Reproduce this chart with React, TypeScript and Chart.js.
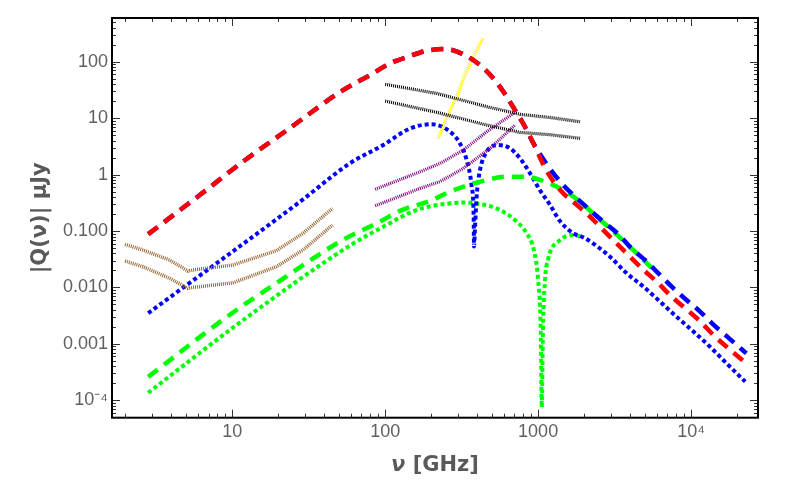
import { useEffect, useRef } from "react";
import { Chart, registerables } from "chart.js";

Chart.register(...registerables);

// frequencies in GHz, |Q| in μJy
const redNu = [2.82, 6.1, 12.1, 24.4, 50.6, 83, 107, 141, 187, 246, 333, 417, 509, 607, 706, 821, 931, 1122, 1422, 1742, 2183, 2670, 3270, 3990, 4890, 5970, 7290, 9140, 11500, 14000, 17600, 23000];
const redQ = [0.088, 0.43, 1.8, 7.0, 29, 62, 93, 123, 157, 168, 131, 87, 51, 26.8, 13.9, 7.05, 3.6, 1.24, 0.5, 0.31, 0.18, 0.104, 0.06, 0.035, 0.0205, 0.0126, 0.0073, 0.0043, 0.0025, 0.00143, 0.00083, 0.00045];

const blueDashNu = [2.82, 6.1, 12.1, 24.4, 50.6, 83, 107, 141, 187, 246, 333, 417, 509, 607, 706, 821, 931, 1110, 1426, 2183, 2670, 3390, 4090, 5140, 5970, 7480, 9140, 11500, 14000, 17600, 23000];
const blueDashQ = [0.088, 0.43, 1.8, 7.0, 29, 62, 93, 123, 157, 168, 131, 87, 51, 26.8, 13.9, 7.05, 3.6, 1.69, 0.7, 0.235, 0.146, 0.085, 0.049, 0.0286, 0.019, 0.0103, 0.0063, 0.0037, 0.0022, 0.00128, 0.00068];

const greenDashNu = [2.82, 9.2, 20, 53, 92, 125, 201, 266, 349, 461, 607, 821, 1110, 1462, 1880, 2415, 3030, 4090, 5550];
const greenDashQ = [0.00026, 0.003, 0.0126, 0.07, 0.146, 0.228, 0.35, 0.5, 0.65, 0.8, 0.92, 0.92, 0.75, 0.53, 0.33, 0.18, 0.104, 0.049, 0.022];

const blueDotNu = [2.82, 27.7, 58.7, 97, 146, 201, 266, 308, 341, 368, 379, 381, 386, 396, 417, 461, 550, 655, 762, 886, 1028, 1197, 1390, 1700, 1977, 2296, 2950, 3800, 4890, 6280, 8070, 10400, 13300, 17100, 22600];
const blueDotQ = [0.0035, 0.33, 1.58, 3.34, 6.6, 7.8, 5.75, 3.58, 1.8, 0.61, 0.18, 0.053, 0.104, 0.4, 1.2, 2.54, 3.34, 2.92, 1.94, 1.05, 0.53, 0.29, 0.15, 0.091, 0.077, 0.06, 0.035, 0.0178, 0.0103, 0.0056, 0.003, 0.00164, 0.00089, 0.00045, 0.000214];

const greenDotNu = [2.82, 11.8, 58.7, 97, 160, 266, 341, 377, 485, 592, 725, 842, 940, 1000, 1040, 1057, 1075, 1110, 1167, 1390, 1700, 1950];
const greenDotQ = [0.000136, 0.00265, 0.055, 0.119, 0.235, 0.31, 0.32, 0.31, 0.277, 0.22, 0.146, 0.091, 0.045, 0.0136, 0.00176, 0.000075, 0.0018, 0.0136, 0.033, 0.069, 0.085, 0.078];

const blackHiNu = [100, 217, 461, 762, 1190, 1880];
const blackHiQ = [39.8, 27.5, 16, 11.7, 10.3, 8.65];
const blackLoNu = [100, 217, 461, 762, 1190, 1880];
const blackLoQ = [20.1, 12.7, 7.55, 5.6, 5.1, 4.4];

const purpleHiNu = [86, 169, 228, 324, 461, 706];
const purpleHiQ = [0.55, 1.12, 1.58, 2.72, 5.75, 12.7];
const purpleLoNu = [86, 169, 228, 324, 485, 706];
const purpleLoQ = [0.28, 0.57, 0.75, 1.29, 2.92, 7.55];

const yellowNu = [222, 258, 293, 333, 377, 438];
const yellowQ = [4.4, 11.4, 24, 58, 123, 266];

const brownHiNu = [1.99, 2.61, 3.9, 5.14, 5.54, 10.1, 19.4, 29, 45.3];
const brownHiQ = [0.058, 0.046, 0.0306, 0.0195, 0.0204, 0.025, 0.0448, 0.091, 0.252];
const brownLoNu = [1.99, 2.61, 3.9, 5.14, 5.54, 10.1, 19.4, 29, 45.3];
const brownLoQ = [0.0294, 0.0233, 0.0145, 0.00964, 0.01, 0.0121, 0.0233, 0.046, 0.128];

const xTickValues = [10, 100, 1000, 10000];
const xTickLabels = ["10", "100", "1000", "10⁴"];
const yTickValues = [0.0001, 0.001, 0.01, 0.1, 1, 10, 100];
const yTickLabels = ["10⁻⁴", "0.001", "0.010", "0.100", "1", "10", "100"];

const pts = (nu: number[], q: number[]) => nu.map((v, i) => ({ x: v, y: q[i] }));

const tickFont = { family: "'Liberation Sans', Arial, sans-serif", size: 18 };
const grey = "#606060";

// frame with inward ticks on all four sides, plus the x title
const frameTicks = {
  id: "frameTicks",
  afterDraw(chart: any) {
    const { ctx, chartArea: a, scales } = chart;
    const xs = scales.x;
    const ys = scales.y;
    ctx.save();
    ctx.strokeStyle = "#333";
    ctx.lineWidth = 1;
    ctx.beginPath();
    for (let e = 0; e <= 4; e++) {
      for (let m = 1; m <= 9; m++) {
        const v = m * Math.pow(10, e);
        if (v < xs.min || v > xs.max) continue;
        const px = Math.round(xs.getPixelForValue(v)) + 0.5;
        const len = m === 1 ? 8 : 4;
        ctx.moveTo(px, a.bottom);
        ctx.lineTo(px, a.bottom - len);
        ctx.moveTo(px, a.top);
        ctx.lineTo(px, a.top + len);
      }
    }
    for (let e = -5; e <= 2; e++) {
      for (let m = 1; m <= 9; m++) {
        const v = m * Math.pow(10, e);
        if (v < ys.min || v > ys.max) continue;
        const py = Math.round(ys.getPixelForValue(v)) + 0.5;
        const len = m === 1 ? 8 : 4;
        ctx.moveTo(a.left, py);
        ctx.lineTo(a.left + len, py);
        ctx.moveTo(a.right, py);
        ctx.lineTo(a.right - len, py);
      }
    }
    ctx.stroke();
    ctx.strokeStyle = "#000";
    ctx.lineWidth = 2;
    ctx.strokeRect(a.left, a.top, a.right - a.left, a.bottom - a.top);

    // x title: italic ν, upright [GHz]
    const nuFont = "italic bold 21px 'DejaVu Sans', sans-serif";
    const restFont = "bold 21px 'DejaVu Sans', sans-serif";
    ctx.font = nuFont;
    const w1 = ctx.measureText("ν").width;
    ctx.font = restFont;
    const w2 = ctx.measureText(" [GHz]").width;
    const cx = (a.left + a.right) / 2;
    const x0 = cx - (w1 + w2) / 2;
    ctx.fillStyle = "#5a5a5a";
    ctx.textBaseline = "middle";
    ctx.textAlign = "left";
    ctx.font = nuFont;
    ctx.fillText("ν", x0, 466);
    ctx.font = restFont;
    ctx.fillText(" [GHz]", x0 + w1, 466);
    ctx.restore();
  },
};

export default function App() {
  const chartRef = useRef<HTMLCanvasElement>(null);
  const chartInstance = useRef<Chart | null>(null);

  useEffect(() => {
    if (!chartRef.current) return;
    if (chartInstance.current) chartInstance.current.destroy();

    const fine = { borderWidth: 3.2, borderDash: [1, 1], tension: 0 };
    const dashed = { borderWidth: 4.5, borderDash: [12, 8], cubicInterpolationMode: "monotone" as const };
    const dotted = { borderWidth: 4, borderDash: [4, 3], cubicInterpolationMode: "monotone" as const };

    chartInstance.current = new Chart(chartRef.current, {
      type: "line",
      data: {
        datasets: [
          { label: "red", data: pts(redNu, redQ), borderColor: "#ff0000", ...dashed },
          { label: "blue dashed", data: pts(blueDashNu, blueDashQ), borderColor: "#0000ff", ...dashed },
          { label: "black 1", data: pts(blackHiNu, blackHiQ), borderColor: "#000000", ...fine },
          { label: "black 2", data: pts(blackLoNu, blackLoQ), borderColor: "#000000", ...fine },
          { label: "yellow", data: pts(yellowNu, yellowQ), borderColor: "#ffee00", ...fine, borderWidth: 3.5, tension: 0.3 },
          { label: "purple 1", data: pts(purpleHiNu, purpleHiQ), borderColor: "#800080", ...fine },
          { label: "purple 2", data: pts(purpleLoNu, purpleLoQ), borderColor: "#800080", ...fine },
          { label: "brown 1", data: pts(brownHiNu, brownHiQ), borderColor: "#996633", ...fine, borderWidth: 3.5 },
          { label: "brown 2", data: pts(brownLoNu, brownLoQ), borderColor: "#996633", ...fine, borderWidth: 3.5 },
          { label: "green dashed", data: pts(greenDashNu, greenDashQ), borderColor: "#00ff00", ...dashed, borderWidth: 4.5 },
          { label: "blue dotted", data: pts(blueDotNu, blueDotQ), borderColor: "#0000ff", ...dotted },
          { label: "green dotted", data: pts(greenDotNu, greenDotQ), borderColor: "#00ff00", ...dotted },
        ],
      },
      options: {
        responsive: false,
        animation: false,
        layout: { padding: { left: 0, right: 30, top: 18, bottom: 0 } },
        elements: { point: { radius: 0 }, line: { fill: false, borderCapStyle: "butt" } },
        plugins: { legend: { display: false }, tooltip: { enabled: false } },
        scales: {
          x: {
            type: "logarithmic",
            min: 1.636,
            max: 27400,
            grid: { display: false, drawTicks: false },
            border: { display: false },
            afterBuildTicks: (scale: any) => {
              scale.ticks = xTickValues.map((v) => ({ value: v }));
            },
            afterFit: (scale: any) => {
              scale.height = 83.3;
            },
            ticks: {
              autoSkip: false,
              maxRotation: 0,
              padding: 4,
              font: tickFont,
              color: grey,
              callback: (value: any) => xTickLabels[xTickValues.indexOf(Number(value))] ?? "",
            },
          },
          y: {
            type: "logarithmic",
            min: 4.92e-5,
            max: 596,
            grid: { display: false, drawTicks: false },
            border: { display: false },
            afterBuildTicks: (scale: any) => {
              scale.ticks = yTickValues.map((v) => ({ value: v }));
            },
            afterFit: (scale: any) => {
              scale.width = 112;
            },
            title: {
              display: true,
              text: "|Q(ν)| μJy",
              color: "#5a5a5a",
              font: { family: "'DejaVu Sans', sans-serif", size: 21, weight: "bold" },
              padding: { top: 28, bottom: 0 },
            },
            ticks: {
              autoSkip: false,
              padding: 4,
              font: tickFont,
              color: grey,
              callback: (value: any) => yTickLabels[yTickValues.indexOf(Number(value))] ?? "",
            },
          },
        },
      },
      plugins: [frameTicks],
    });

    return () => {
      if (chartInstance.current) {
        chartInstance.current.destroy();
        chartInstance.current = null;
      }
    };
  }, []);

  return (
    <div style={{ position: "absolute", left: 0, top: 0, width: 788, height: 501, background: "#fff" }}>
      <canvas ref={chartRef} width={788} height={501} />
    </div>
  );
}
